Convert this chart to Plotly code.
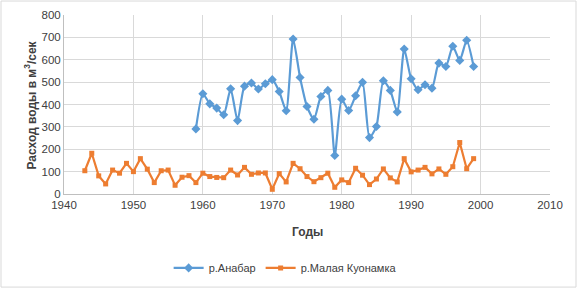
import plotly.graph_objects as go

years_anabar = list(range(1959, 2000))
anabar = [291, 448, 403, 384, 354, 470, 328, 482, 496, 469, 493, 511, 458, 372, 693,
          521, 391, 334, 436, 463, 172, 424, 373, 439, 499, 252, 302, 506, 463, 367,
          648, 515, 466, 488, 473, 585, 570, 660, 597, 687, 570]

years_kuon = list(range(1943, 2000))
kuonamka = [104, 182, 81, 45, 107, 93, 137, 100, 158, 111, 51, 104, 107, 39, 75, 82,
            51, 93, 78, 74, 73, 107, 85, 119, 88, 94, 94, 21, 91, 54, 137, 113, 78,
            55, 73, 93, 30, 63, 51, 115, 84, 42, 67, 112, 72, 54, 158, 99, 107, 119,
            90, 112, 88, 122, 230, 113, 158]

x_ticks = [1940, 1950, 1960, 1970, 1980, 1990, 2000, 2010]
y_ticks = [0, 100, 200, 300, 400, 500, 600, 700, 800]

BLUE = "#5b9bd5"
ORANGE = "#ed7d31"
FONT = "Liberation Sans"

fig = go.Figure()
fig.add_trace(go.Scatter(
    x=years_anabar, y=anabar, name="р.Анабар", mode="lines+markers",
    line=dict(color=BLUE, width=2.2, shape="spline", smoothing=0.6),
    marker=dict(symbol="diamond", size=7, color=BLUE)))
fig.add_trace(go.Scatter(
    x=years_kuon, y=kuonamka, name="р.Малая Куонамка", mode="lines+markers",
    line=dict(color=ORANGE, width=2.2),
    marker=dict(symbol="square", size=5, color=ORANGE)))

fig.update_layout(
    width=577, height=289,
    margin=dict(l=64, r=27, t=15, b=95, autoexpand=False),
    paper_bgcolor="white", plot_bgcolor="white",
    font=dict(family=FONT, size=11.5, color="#404040"),
    showlegend=True,
    legend=dict(orientation="h", x=0.455, xanchor="center",
                yref="container", y=0.073, yanchor="middle",
                font=dict(family=FONT, size=11, color="#404040"),
                itemwidth=30, tracegroupgap=0),
    shapes=[dict(type="rect", xref="paper", yref="paper",
                 x0=-0.1296, x1=1.0535, y0=-0.52, y1=1.078,
                 line=dict(color="#d9d9d9", width=1), layer="below")],
    annotations=[
        dict(text="<b>Годы</b>", xref="paper", yref="paper", x=0.5, y=-0.212,
             xanchor="center", yanchor="middle", showarrow=False,
             font=dict(family=FONT, size=12, color="#404040")),
        dict(text="<b>Расход воды в м<sup>3</sup>/сек</b>", xref="paper", yref="paper",
             x=-0.07, y=0.5, xanchor="center", yanchor="middle", textangle=-90,
             showarrow=False, font=dict(family=FONT, size=12, color="#404040")),
    ],
)
fig.update_xaxes(
    range=[1940, 2010], tickvals=x_ticks, ticktext=[str(t) for t in x_ticks],
    showgrid=True, gridcolor="#d9d9d9", gridwidth=1,
    showline=True, linecolor="#bfbfbf", linewidth=1, zeroline=False,
    ticks="", tickfont=dict(size=11.5, color="#404040"), automargin=False)
fig.update_yaxes(
    range=[0, 800], tickvals=y_ticks,
    showgrid=True, gridcolor="#d9d9d9", gridwidth=1,
    showline=True, linecolor="#bfbfbf", linewidth=1, zeroline=False,
    ticks="", tickfont=dict(size=11.5, color="#404040"), automargin=False)

fig.write_html("out.html", config={"displayModeBar": False},
               post_script="document.body.style.margin='0';document.body.style.overflow='hidden';")
